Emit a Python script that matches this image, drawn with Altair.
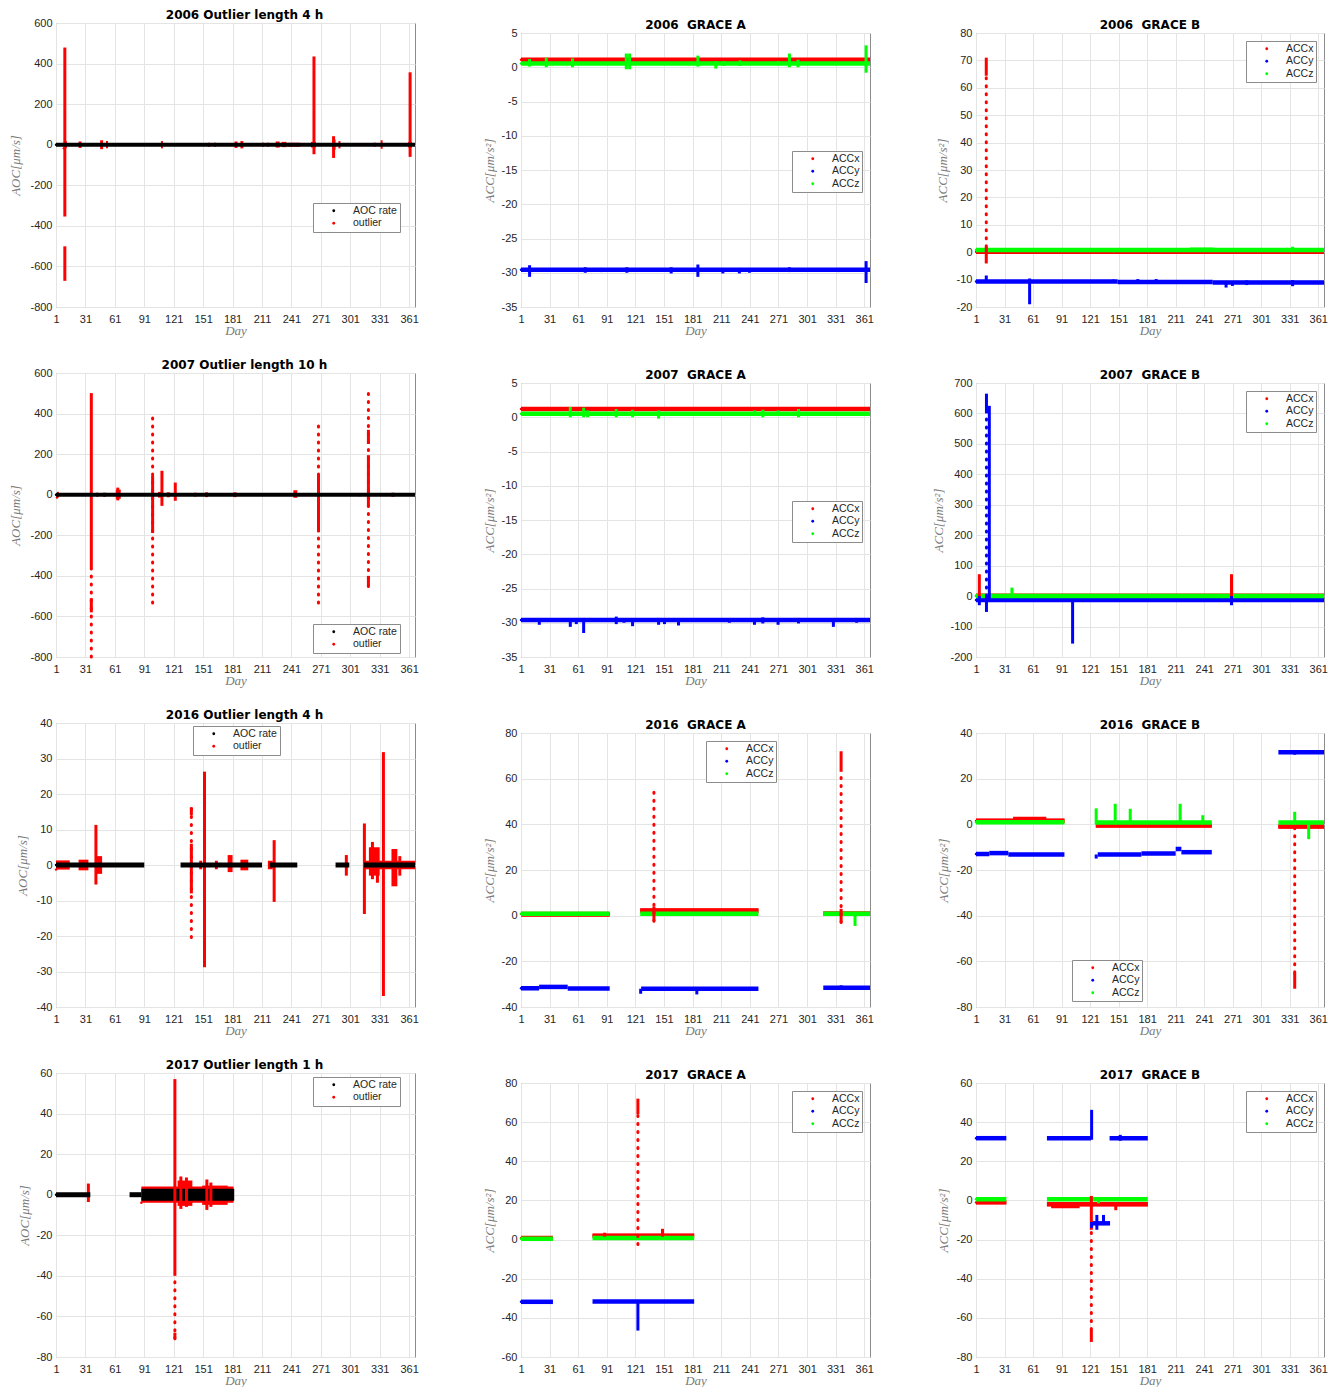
import altair as alt
import pandas as pd

# ---------------------------------------------------------------- axes / names
DAY_TICKS = [1, 31, 61, 91, 121, 151, 181, 211, 241, 271, 301, 331, 361]
DAY_RANGE = [1, 367]

AOC_SERIES = ["AOC rate", "outlier"]
AOC_COLORS = ["#000000", "#ff0000"]
ACC_SERIES = ["ACCx", "ACCy", "ACCz"]
ACC_COLORS = ["#ff0000", "#0000ff", "#00ff00"]

AOC_LABEL = "AOC[μm/s]"
ACC_LABEL = "ACC[μm/s²]"

Y_A06 = [-800, -600, -400, -200, 0, 200, 400, 600]
Y_A07 = [-800, -600, -400, -200, 0, 200, 400, 600]
Y_A16 = [-40, -30, -20, -10, 0, 10, 20, 30, 40]
Y_A17 = [-80, -60, -40, -20, 0, 20, 40, 60]
Y_GA06 = [-35, -30, -25, -20, -15, -10, -5, 0, 5]
Y_GA07 = [-35, -30, -25, -20, -15, -10, -5, 0, 5]
Y_GA16 = [-40, -20, 0, 20, 40, 60, 80]
Y_GA17 = [-60, -40, -20, 0, 20, 40, 60, 80]
Y_GB06 = [-20, -10, 0, 10, 20, 30, 40, 50, 60, 70, 80]
Y_GB07 = [-200, -100, 0, 100, 200, 300, 400, 500, 600, 700]
Y_GB16 = [-80, -60, -40, -20, 0, 20, 40]
Y_GB17 = [-80, -60, -40, -20, 0, 20, 40, 60]

# ---------------------------------------------------------------- data
# lines: (series, day_from, day_to, value)
# boxes: (series, day_from, day_to, low, high)
# spikes / dots: (series, day, low, high)

A06_LINES = [("AOC rate", 1, 367, 0)]
A06_BOXES = [
    ("outlier", 9, 12, -18, 18), ("outlier", 24, 27, -16, 16), ("outlier", 46, 49, -22, 22),
    ("outlier", 52, 54, -18, 18), ("outlier", 108, 110, -18, 18), ("outlier", 156, 158, -10, 10),
    ("outlier", 162, 164, -10, 10), ("outlier", 183, 186, -16, 16), ("outlier", 189, 192, -18, 18),
    ("outlier", 211, 213, -10, 10), ("outlier", 216, 218, -10, 10), ("outlier", 225, 229, -14, 16),
    ("outlier", 231, 236, -12, 14), ("outlier", 237, 250, -10, 10), ("outlier", 261, 266, -14, 14),
    ("outlier", 283, 286, -25, 25), ("outlier", 289, 291, -18, 18), ("outlier", 325, 327, -10, 10),
    ("outlier", 332, 334, -20, 22), ("outlier", 360, 364, -14, 14)]
A06_SPIKES = [("outlier", 10, -354, 479), ("outlier", 10, -671, -501), ("outlier", 264, -47, 435),
              ("outlier", 284, -65, 42), ("outlier", 362, -60, 357)]
A06_DOTS = []

A07_LINES = [("AOC rate", 1, 367, 0)]
A07_BOXES = [
    ("outlier", 2, 4, -14, 14), ("outlier", 42, 44, -10, 10), ("outlier", 49, 52, -10, 10),
    ("outlier", 62, 67, -20, 25), ("outlier", 105, 110, -14, 14), ("outlier", 114, 117, -12, 12),
    ("outlier", 142, 144, -10, 10), ("outlier", 153, 156, -12, 12), ("outlier", 182, 185, -12, 12),
    ("outlier", 243, 247, -15, 22), ("outlier", 310, 312, -8, 8), ("outlier", 343, 346, -10, 10)]
A07_SPIKES = [("outlier", 37, -366, 501), ("outlier", 37, -580, -510), ("outlier", 64, -28, 35),
              ("outlier", 99.5, -189, 92), ("outlier", 109, -55, 118), ("outlier", 122.6, -30, 60),
              ("outlier", 268.6, -184, 100), ("outlier", 319.5, 250, 320), ("outlier", 319.5, -60, 195),
              ("outlier", 319.5, -453, -400)]
A07_DOTS = [("outlier", 37, -800, -366), ("outlier", 99.5, -534, 394), ("outlier", 268.6, -534, 349),
            ("outlier", 319.5, -453, 501)]

A16_LINES = [("AOC rate", 1, 91, 0), ("AOC rate", 128, 211, 0), ("AOC rate", 219, 247, 0),
             ("AOC rate", 286, 300, 0), ("AOC rate", 315, 367, 0)]
A16_BOXES = [
    ("outlier", 1, 15, -1.3, 1.3), ("outlier", 24, 34, -1.5, 1.5), ("outlier", 41, 48, -2.5, 2.5),
    ("outlier", 147, 150, -1.2, 1.2), ("outlier", 163, 166, -1.2, 1.2), ("outlier", 176, 181, -2, 2.8),
    ("outlier", 189, 197, -1.5, 1.5), ("outlier", 217, 222, -1.2, 1.2), ("outlier", 316, 367, -1.2, 1.2),
    ("outlier", 320, 331, -3, 5), ("outlier", 343, 349, -6, 4.5), ("outlier", 350, 353, -3, 2.5)]
A16_SPIKES = [("outlier", 41.7, -5.5, 11.3), ("outlier", 139, -8, 6), ("outlier", 139, 14, 16.2),
              ("outlier", 152.4, -28.8, 26.3), ("outlier", 223.4, -10.4, 7), ("outlier", 297, -3, 2.8),
              ("outlier", 315.4, -13.8, 11.7), ("outlier", 323.6, -4, 6.5), ("outlier", 328.7, -5, 4.5),
              ("outlier", 334.8, -36.9, 31.8)]
A16_DOTS = [("outlier", 139, -20.4, 16.2)]

A17_LINES = [("AOC rate", 1, 36, 0), ("AOC rate", 76, 88, 0)]
A17_BOXES = [("outlier", 88, 182, -4, 4), ("outlier", 125, 140, -5.5, 7), ("outlier", 150, 176, -5, 4.5),
             ("AOC rate", 88, 182.7, -3, 3)]
A17_SPIKES = [("outlier", 34, -3.6, 5.5), ("outlier", 122.2, -40, 57), ("outlier", 122.2, -71, -68),
              ("outlier", 128.3, -7, 9), ("outlier", 134, -6, 8.5), ("outlier", 154.8, -7.5, 7.5),
              ("outlier", 158.9, -6, 6)]
A17_DOTS = [("outlier", 122.2, -71, -40)]

GA06_LINES = [("ACCx", 1, 367, 1.1), ("ACCy", 1, 367, -29.55), ("ACCz", 1, 367, 0.55)]
GA06_BOXES = []
GA06_SPIKES = [
    ("ACCy", 10, -30.6, -28.9), ("ACCy", 68.4, -30.0, -29.2), ("ACCy", 85.2, -29.9, -29.3),
    ("ACCy", 112, -30.0, -29.2), ("ACCy", 158.5, -30.1, -29.2), ("ACCy", 186.5, -30.6, -28.8),
    ("ACCy", 212.7, -30.1, -29.3), ("ACCy", 230, -30.1, -29.3), ("ACCy", 240.6, -30.0, -29.3),
    ("ACCy", 282.5, -29.9, -29.2), ("ACCy", 333.9, -29.9, -29.3), ("ACCy", 362.9, -31.5, -28.3),
    ("ACCz", 10, 0.1, 1.2), ("ACCz", 27.5, 0, 1.4), ("ACCz", 55, 0, 1.3), ("ACCz", 111.4, -0.3, 2.0),
    ("ACCz", 114.9, -0.3, 2.0), ("ACCz", 186.5, 0.1, 1.7), ("ACCz", 205.3, -0.2, 0.9),
    ("ACCz", 214, 0.2, 0.9), ("ACCz", 230.8, 0.2, 1.0), ("ACCz", 271, 0.3, 0.9),
    ("ACCz", 282.5, 0, 2.0), ("ACCz", 291.6, 0, 1.1), ("ACCz", 362.9, -0.8, 3.2)]
GA06_DOTS = []

GA07_LINES = [("ACCx", 1, 367, 1.2), ("ACCy", 1, 367, -29.6), ("ACCz", 1, 367, 0.5)]
GA07_BOXES = []
GA07_SPIKES = [
    ("ACCy", 20.2, -30.3, -29.5), ("ACCy", 52.7, -30.6, -29.4), ("ACCy", 59, -30.2, -29.5),
    ("ACCy", 66.7, -31.5, -29.3), ("ACCy", 100.9, -30.2, -29.1), ("ACCy", 109, -30.0, -29.4),
    ("ACCy", 118, -30.5, -29.4), ("ACCy", 145.3, -30.3, -29.3), ("ACCy", 151.5, -30.2, -29.5),
    ("ACCy", 166.2, -30.4, -29.5), ("ACCy", 219.6, -30.0, -29.5), ("ACCy", 245.9, -30.3, -29.4),
    ("ACCy", 254.6, -30.1, -29.2), ("ACCy", 270.6, -30.3, -29.4), ("ACCy", 292, -30.1, -29.3),
    ("ACCy", 328.6, -30.6, -29.5), ("ACCy", 353, -30.0, -29.5),
    ("ACCz", 52.7, 0, 1.5), ("ACCz", 66.7, 0, 1.4), ("ACCz", 70.9, 0, 1.0), ("ACCz", 100.9, 0, 1.2),
    ("ACCz", 118, 0, 1.1), ("ACCz", 145.3, -0.2, 1.0), ("ACCz", 245.9, 0.3, 1.0),
    ("ACCz", 254.6, 0, 1.1), ("ACCz", 270.6, 0.2, 1.0), ("ACCz", 292, 0, 1.2)]
GA07_DOTS = []

GA16_LINES = [
    ("ACCx", 1, 94, 0.7), ("ACCx", 126, 250, 2.2), ("ACCx", 318, 367, 1.0),
    ("ACCy", 1, 20, -31.8), ("ACCy", 20, 50, -31.2), ("ACCy", 50, 94, -31.9),
    ("ACCy", 127, 250, -32.0), ("ACCy", 318, 367, -31.6),
    ("ACCz", 1, 94, 0.8), ("ACCz", 126, 250, 0.8), ("ACCz", 318, 367, 0.8)]
GA16_BOXES = [("ACCx", 126, 250, 1.2, 3.3), ("ACCx", 1, 94, -0.5, 1.2)]
GA16_SPIKES = [("ACCx", 140.4, -2.4, 4), ("ACCx", 336.7, 63, 72), ("ACCx", 336.7, -3, 3),
               ("ACCy", 126.5, -34.2, -32), ("ACCy", 185.4, -34.5, -31.5), ("ACCy", 336.7, -31.8, -30.5),
               ("ACCz", 351.3, -4.5, 0.8)]
GA16_DOTS = [("ACCx", 140.4, -2.4, 56.3), ("ACCx", 336.7, -3, 63)]

GA17_LINES = [("ACCx", 1, 34.5, 0.8), ("ACCx", 76, 182.6, 2.0),
              ("ACCy", 1, 34.5, -31.8), ("ACCy", 76, 182.6, -31.6),
              ("ACCz", 1, 34.5, 0.4), ("ACCz", 76, 182.6, 0.8)]
GA17_BOXES = [("ACCx", 76, 182.6, 1.2, 3.0), ("ACCx", 1, 34.5, 0.2, 1.3)]
GA17_SPIKES = [("ACCx", 123.6, 64, 72), ("ACCx", 149.4, 1.5, 5.5), ("ACCx", 88.7, 1.5, 3.5),
               ("ACCy", 123.6, -46.5, -31)]
GA17_DOTS = [("ACCx", 123.6, -2.5, 64)]

GB06_LINES = [("ACCx", 1, 367, 0.2), ("ACCy", 1, 150, -10.7), ("ACCy", 150, 250, -10.9),
              ("ACCy", 250, 367, -11.1), ("ACCz", 1, 367, 0.8)]
GB06_BOXES = [("ACCz", 226, 250.7, -0.5, 1.7)]
GB06_SPIKES = [
    ("ACCx", 11.8, 64.4, 71), ("ACCx", 11.8, -4.1, 2),
    ("ACCy", 11.8, -11, -8.5), ("ACCy", 57.4, -19, -9.6), ("ACCy", 145.7, -11, -10),
    ("ACCy", 171.2, -11, -9.8), ("ACCy", 190.5, -11.3, -9.8), ("ACCy", 264, -12.9, -10.5),
    ("ACCy", 270.7, -12.3, -11), ("ACCy", 285.8, -12, -10.3), ("ACCy", 334, -12.4, -10.2),
    ("ACCz", 26.6, 0.3, 1.5), ("ACCz", 54.6, 0.3, 1.5), ("ACCz", 146, 0, 1.3), ("ACCz", 334, 0, 2)]
GB06_DOTS = [("ACCx", 11.8, 2, 64.4)]

GB07_LINES = [("ACCx", 1, 367, 1), ("ACCy", 1, 367, -13), ("ACCz", 1, 367, 0)]
GB07_BOXES = [("ACCy", 205, 215, -18, -10)]
GB07_SPIKES = [
    ("ACCx", 4.5, -5, 72), ("ACCx", 269.7, -5, 72),
    ("ACCy", 4.5, -30, 0), ("ACCy", 12, 600, 665), ("ACCy", 12, -52, 0), ("ACCy", 15, -10, 625),
    ("ACCy", 102.6, -156, -10), ("ACCy", 269.7, -30, 0),
    ("ACCz", 38.8, 0, 28), ("ACCz", 320, 0, 8)]
GB07_DOTS = [("ACCy", 12, 0, 600)]

GB16_LINES = [
    ("ACCx", 1, 94, 1.5), ("ACCx", 127, 249, -0.5), ("ACCx", 319, 367, -1.0),
    ("ACCy", 1, 15, -13.0), ("ACCy", 15, 35, -12.6), ("ACCy", 35, 94, -13.2),
    ("ACCy", 129, 175, -13.2), ("ACCy", 175, 211, -12.8), ("ACCy", 211, 217, -10.8),
    ("ACCy", 217, 249, -12.2), ("ACCy", 319, 367, 31.6),
    ("ACCz", 1, 94, 0.9), ("ACCz", 127, 249, 0.8), ("ACCz", 319, 367, 0.8)]
GB16_BOXES = [("ACCx", 1, 94, 0.6, 2.6), ("ACCx", 40, 75, 1.5, 3.3), ("ACCx", 127, 249, -1.4, 0.2),
              ("ACCx", 319, 367, -1.8, -0.2)]
GB16_SPIKES = [
    ("ACCx", 336.2, -72, -65),
    ("ACCy", 127.4, -15, -13.2), ("ACCy", 336.2, 30.5, 32.2),
    ("ACCz", 127.4, 0, 7), ("ACCz", 147.4, 0, 9), ("ACCz", 163.2, 0, 6.8), ("ACCz", 215.7, 0, 9),
    ("ACCz", 239.5, 0, 4), ("ACCz", 336.2, 0, 5.5), ("ACCz", 350.9, -6.5, 1)]
GB16_DOTS = [("ACCx", 336.2, -65, 0)]

GB17_LINES = [
    ("ACCx", 1, 32.9, -1.0), ("ACCx", 75.6, 181.7, -2.0),
    ("ACCy", 1, 32.9, 31.8), ("ACCy", 75.6, 122, 31.8), ("ACCy", 122.6, 142, -11.7),
    ("ACCy", 141.5, 181.7, 31.8),
    ("ACCz", 1, 32.9, 0.6), ("ACCz", 75.6, 181.7, 0.6)]
GB17_BOXES = [("ACCx", 1, 32.9, -1.8, -0.3), ("ACCx", 75.6, 181.7, -3.0, -1.2), ("ACCx", 80, 110, -4, -1.5)]
GB17_SPIKES = [
    ("ACCx", 122.3, -72.3, -66), ("ACCx", 122.3, -15, 2.3), ("ACCx", 148, -5, -2),
    ("ACCy", 122.6, 31, 46.3), ("ACCy", 122.6, -14, -11), ("ACCy", 128.1, -15, -7.4),
    ("ACCy", 135.1, -12, -7.4), ("ACCy", 152.7, 30.5, 33.5),
    ("ACCz", 129.9, -1.5, 0.6)]
GB17_DOTS = [("ACCx", 122.3, -66, -15)]

# ---------------------------------------------------------------- layout / style per panel
COL_SIZE = {0: (359, 284), 1: (349, 274), 2: (348, 274)}

PANELS = [
    dict(col=0, title="2006 Outlier length 4 h", aoc=True, yt=Y_A06, ypad=34, leg=(257, 180), lw=4,
         data=(A06_LINES, A06_BOXES, A06_SPIKES, A06_DOTS)),
    dict(col=0, title="2007 Outlier length 10 h", aoc=True, yt=Y_A07, ypad=34, leg=(257, 251), lw=4,
         data=(A07_LINES, A07_BOXES, A07_SPIKES, A07_DOTS)),
    dict(col=0, title="2016 Outlier length 4 h", aoc=True, yt=Y_A16, ypad=27, leg=(137, 3), lw=5,
         data=(A16_LINES, A16_BOXES, A16_SPIKES, A16_DOTS)),
    dict(col=0, title="2017 Outlier length 1 h", aoc=True, yt=Y_A17, ypad=25, leg=(257, 4), lw=5,
         data=(A17_LINES, A17_BOXES, A17_SPIKES, A17_DOTS)),
    dict(col=1, title="2006\u00a0 GRACE A", aoc=False, yt=Y_GA06, ypad=25, leg=(271, 118), lw=4.5,
         data=(GA06_LINES, GA06_BOXES, GA06_SPIKES, GA06_DOTS)),
    dict(col=1, title="2007\u00a0 GRACE A", aoc=False, yt=Y_GA07, ypad=25, leg=(271, 118), lw=4.5,
         data=(GA07_LINES, GA07_BOXES, GA07_SPIKES, GA07_DOTS)),
    dict(col=1, title="2016\u00a0 GRACE A", aoc=False, yt=Y_GA16, ypad=25, leg=(185, 8), lw=4.5,
         data=(GA16_LINES, GA16_BOXES, GA16_SPIKES, GA16_DOTS)),
    dict(col=1, title="2017\u00a0 GRACE A", aoc=False, yt=Y_GA17, ypad=25, leg=(271, 8), lw=4.5,
         data=(GA17_LINES, GA17_BOXES, GA17_SPIKES, GA17_DOTS)),
    dict(col=2, title="2006\u00a0 GRACE B", aoc=False, yt=Y_GB06, ypad=27, leg=(270, 8), lw=4.5,
         data=(GB06_LINES, GB06_BOXES, GB06_SPIKES, GB06_DOTS)),
    dict(col=2, title="2007\u00a0 GRACE B", aoc=False, yt=Y_GB07, ypad=31, leg=(270, 8), lw=4.5,
         data=(GB07_LINES, GB07_BOXES, GB07_SPIKES, GB07_DOTS)),
    dict(col=2, title="2016\u00a0 GRACE B", aoc=False, yt=Y_GB16, ypad=26, leg=(96, 227), lw=4.5,
         data=(GB16_LINES, GB16_BOXES, GB16_SPIKES, GB16_DOTS)),
    dict(col=2, title="2017\u00a0 GRACE B", aoc=False, yt=Y_GB17, ypad=26, leg=(270, 8), lw=4.5,
         data=(GB17_LINES, GB17_BOXES, GB17_SPIKES, GB17_DOTS)),
]

LABEL_EXPR = "datum.value + ''"


def build_panel(p):
    width, height = COL_SIZE[p["col"]]
    lines, boxes, spikes, dots = p["data"]
    series = AOC_SERIES if p["aoc"] else ACC_SERIES
    colors = AOC_COLORS if p["aoc"] else ACC_COLORS
    ylabel = AOC_LABEL if p["aoc"] else ACC_LABEL

    xs = alt.Scale(domain=DAY_RANGE, nice=False, zero=False)
    ys = alt.Scale(domain=[p["yt"][0], p["yt"][-1]], nice=False, zero=False)
    cs = alt.Scale(domain=series, range=colors)
    xax = alt.Axis(values=DAY_TICKS, title="Day", labelExpr=LABEL_EXPR, labelPadding=6,
                   titlePadding=17, minExtent=0, maxExtent=0)
    yax = alt.Axis(values=p["yt"], title=ylabel, labelExpr=LABEL_EXPR, labelPadding=4,
                   titlePadding=p["ypad"], minExtent=0, maxExtent=0)
    c_none = alt.Color("series:N", scale=cs, legend=None)
    lx, ly = p["leg"]
    legend = alt.Legend(orient="none", legendX=lx, legendY=ly, title=None, direction="vertical",
                        fillColor="white", strokeColor="#8c8c8c", padding=2.5, rowPadding=1.5,
                        symbolType="circle", symbolSize=8, symbolStrokeWidth=0, symbolOffset=13,
                        labelOffset=14, labelFont="Liberation Sans", labelFontSize=10.5,
                        labelColor="#262626", zindex=1)

    X = lambda f: alt.X(f, type="quantitative", scale=xs, axis=xax)
    Y = lambda f: alt.Y(f, type="quantitative", scale=ys, axis=yax)

    # legend carrier: first data point of every series, drawn first (hidden below the data)
    seen, leg_rows = set(), []
    for s, x1, x2, y in lines:
        if s not in seen:
            seen.add(s); leg_rows.append((s, x1, y))
    for s, x1, x2, y1, y2 in boxes:
        if s not in seen:
            seen.add(s); leg_rows.append((s, x1, y1))
    for s, x, y1, y2 in spikes:
        if s not in seen:
            seen.add(s); leg_rows.append((s, x, y2))
    leg_df = pd.DataFrame(leg_rows, columns=["series", "x", "y"])
    leg_layer = alt.Chart(leg_df).mark_circle(size=6, opacity=1).encode(
        x=X("x"), y=Y("y"), color=alt.Color("series:N", scale=cs, legend=legend))

    layer_lines = layer_boxes = layer_spikes = layer_dots = None
    if lines:
        df = pd.DataFrame(lines, columns=["series", "x", "x2", "y"])
        layer_lines = alt.Chart(df).mark_rule(strokeWidth=p["lw"]).encode(
            x=X("x"), x2="x2:Q", y=Y("y"), color=c_none)
    if boxes:
        df = pd.DataFrame(boxes, columns=["series", "x", "x2", "y", "y2"])
        layer_boxes = alt.Chart(df).mark_rect().encode(
            x=X("x"), x2="x2:Q", y=Y("y"), y2="y2:Q", color=c_none)
    if spikes:
        df = pd.DataFrame(spikes, columns=["series", "x", "y", "y2"])
        layer_spikes = alt.Chart(df).mark_rule(strokeWidth=3).encode(
            x=X("x"), y=Y("y"), y2="y2:Q", color=c_none)
    if dots:
        df = pd.DataFrame(dots, columns=["series", "x", "y", "y2"])
        layer_dots = alt.Chart(df).mark_rule(strokeWidth=3, strokeDash=[1, 7], strokeCap="round").encode(
            x=X("x"), y=Y("y"), y2="y2:Q", color=c_none)

    if p["aoc"]:
        order = [leg_layer, layer_boxes, layer_spikes, layer_dots, layer_lines]
    else:
        order = [leg_layer, layer_boxes, layer_lines, layer_spikes, layer_dots]
    layers = [l for l in order if l is not None]
    tdx = 9 if p["col"] == 0 else 0
    return alt.layer(*layers).properties(width=width, height=height,
                                         title=alt.Title(p["title"], dx=tdx))


cols = {0: [], 1: [], 2: []}
for p in PANELS:
    cols[p["col"]].append(build_panel(p))

col1 = alt.vconcat(*cols[0], spacing=66, bounds="flush").resolve_scale(color="independent")
col2 = alt.vconcat(*cols[1], spacing=76, bounds="flush").resolve_scale(color="independent")
col3 = alt.vconcat(*cols[2], spacing=76, bounds="flush").resolve_scale(color="independent")

spacer = alt.Chart(pd.DataFrame({"s": [0]})).mark_rule(opacity=0).encode(
    x=alt.value(1), y=alt.value(0), y2=alt.value(10)
).properties(width=1, height=10, view=alt.ViewBackground(stroke="transparent"))

right = alt.vconcat(
    spacer,
    alt.hconcat(col2, col3, spacing=57).resolve_scale(color="independent"),
    spacing=0, bounds="flush",
).resolve_scale(color="independent")

chart = alt.hconcat(col1, right, spacing=63).resolve_scale(color="independent").properties(
    padding={"left": 8, "top": 8, "right": 4, "bottom": 0}
).configure(background="white").configure_view(
    stroke="#8c8c8c", strokeWidth=1
).configure_axis(
    labelFont="Liberation Sans", labelFontSize=11, labelColor="#262626",
    titleFont="Liberation Serif", titleFontSize=13, titleFontStyle="italic",
    titleFontWeight="normal", titleColor="#7a7a7a",
    grid=True, gridColor="#e4e4e4", gridWidth=1, domain=False, ticks=False, tickSize=0,
    labelFlush=False, labelOverlap=False, zindex=0
).configure_title(
    font="DejaVu Sans", fontSize=12, fontWeight="bold", color="#000000",
    anchor="middle", frame="group", offset=-5, baseline="bottom"
)

chart.save("out.html", embed_options={"renderer": "svg", "actions": False})
